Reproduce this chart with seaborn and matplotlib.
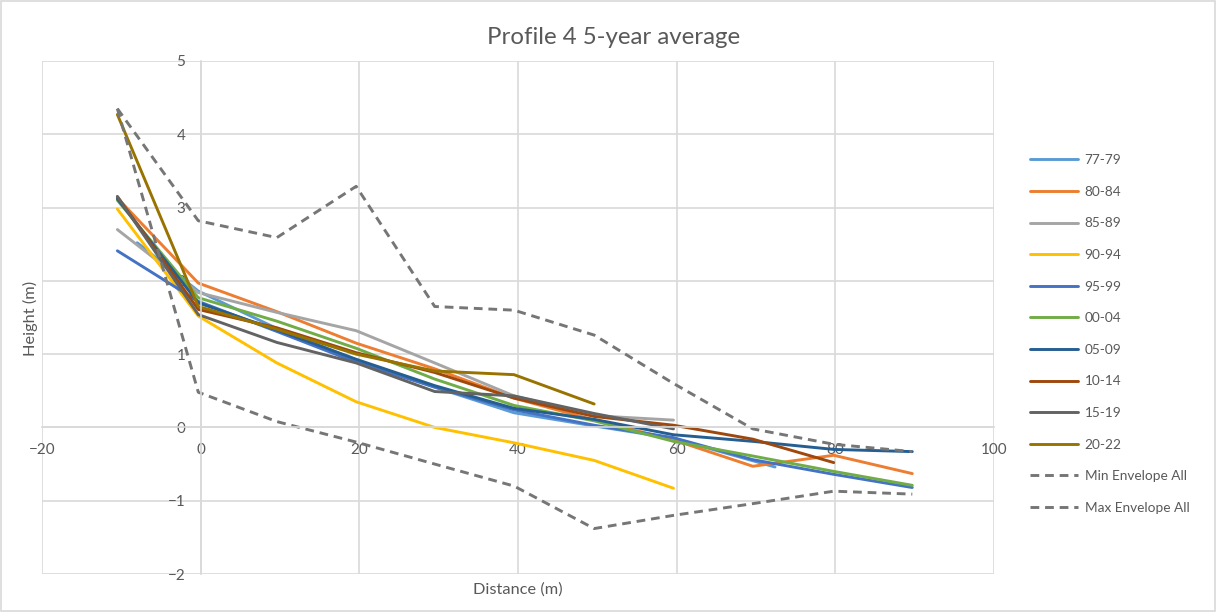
import numpy as np
import pandas as pd
import matplotlib
matplotlib.use("Agg")
import matplotlib.pyplot as plt
from matplotlib.patches import Rectangle
import seaborn as sns

# Chainage positions along the profile (m)
distance = [-10.5, -0.3, 9.6, 19.6, 29.5, 39.5, 49.6, 59.6, 69.6, 79.8, 89.7]
distance_77_79 = [-8.0, -0.3, 9.6, 19.6, 29.5, 39.5, 49.6, 59.6, 72.4]

# 5-year average heights (m)
h_77_79 = [2.52, 1.86, 1.35, 0.92, 0.55, 0.20, 0.02, -0.15, -0.54]
h_80_84 = [3.13, 1.97, 1.58, 1.15, 0.80, 0.40, 0.10, -0.17, -0.53, -0.38, -0.63]
h_85_89 = [2.70, 1.84, 1.57, 1.32, 0.88, 0.43, 0.16, 0.10]
h_90_94 = [2.98, 1.52, 0.88, 0.35, 0.00, -0.21, -0.45, -0.83]
h_95_99 = [2.41, 1.72, 1.31, 0.89, 0.55, 0.24, 0.03, -0.14, -0.44, -0.64, -0.82]
h_00_04 = [3.10, 1.77, 1.45, 1.08, 0.66, 0.30, 0.09, -0.19, -0.39, -0.60, -0.79]
h_05_09 = [3.12, 1.70, 1.33, 0.93, 0.57, 0.26, 0.11, -0.10, -0.19, -0.30, -0.33]
h_10_14 = [3.15, 1.61, 1.36, 1.02, 0.75, 0.40, 0.15, 0.03, -0.16, -0.48]
h_15_19 = [3.15, 1.54, 1.16, 0.88, 0.49, 0.43, 0.19, -0.02]
h_20_22 = [4.27, 1.65, 1.34, 1.00, 0.77, 0.72, 0.32]

env_min = [4.35, 2.82, 2.59, 3.29, 1.65, 1.60, 1.26, 0.60, -0.02, -0.23, -0.33]
env_max = [4.35, 0.48, 0.08, -0.20, -0.50, -0.80, -1.38, -1.20, -1.04, -0.87, -0.91]

series_labels = ["77-79", "80-84", "85-89", "90-94", "95-99",
                 "00-04", "05-09", "10-14", "15-19", "20-22"]
series_heights = [h_77_79, h_80_84, h_85_89, h_90_94, h_95_99,
                  h_00_04, h_05_09, h_10_14, h_15_19, h_20_22]
series_colors = ["#5B9BD5", "#ED7D31", "#A5A5A5", "#FFC000", "#4472C4",
                 "#70AD47", "#255E91", "#9E480E", "#636363", "#997300"]

x_ticks = [-20, 0, 20, 40, 60, 80, 100]
y_ticks = [-2, -1, 0, 1, 2, 3, 4, 5]

sns.set_theme(style="white")
plt.rcParams["font.family"] = ["Lato", "DejaVu Sans"]
text_color = "#595959"
grid_color = "#D9D9D9"

fig = plt.figure(figsize=(12.16, 6.12), dpi=100)
ax = fig.add_axes([42 / 1216, 1 - 574 / 612, (994 - 42) / 1216, (574 - 61) / 612])

for label, heights, color in zip(series_labels, series_heights, series_colors):
    xs = distance_77_79 if label == "77-79" else distance[:len(heights)]
    df = pd.DataFrame({"Distance": xs, "Height": heights})
    sns.lineplot(data=df, x="Distance", y="Height", ax=ax, color=color,
                 lw=2.1, sort=False, estimator=None, label=label)

for label, heights in [("Min Envelope All", env_min), ("Max Envelope All", env_max)]:
    df = pd.DataFrame({"Distance": distance, "Height": heights})
    sns.lineplot(data=df, x="Distance", y="Height", ax=ax, color="#767676",
                 lw=2.1, sort=False, estimator=None, label=label,
                 dashes=False, linestyle=(0, (3, 2)))

ax.set_xlim(-20, 100)
ax.set_ylim(-2, 5)
ax.set_xticks(x_ticks)
ax.set_yticks(y_ticks)
ax.grid(True, color=grid_color, lw=1.2)
ax.set_axisbelow(True)

for side in ["top", "right"]:
    ax.spines[side].set_visible(False)
ax.spines["left"].set_position(("data", 0))
ax.spines["bottom"].set_position(("data", 0))
for side in ["left", "bottom"]:
    ax.spines[side].set_color(grid_color)
    ax.spines[side].set_linewidth(1.2)

ax.tick_params(axis="both", length=0, labelsize=11, labelcolor=text_color)
ax.tick_params(axis="y", pad=11)
ax.tick_params(axis="x", pad=11)

ax.set_xlabel("")
ax.set_ylabel("")
fig.text(518 / 1216, 1 - 590 / 612, "Distance (m)", ha="center", va="center",
         fontsize=11.8, color=text_color)
fig.text(30 / 1216, 1 - 318 / 612, "Height (m)", ha="center", va="center",
         rotation=90, fontsize=11.8, color=text_color)
fig.text(614 / 1216, 1 - 37 / 612, "Profile 4 5-year average", ha="center", va="center",
         fontsize=17.3, color=text_color)

handles, labels = ax.get_legend_handles_labels()
ax.get_legend().remove()
leg = fig.legend(handles, labels, loc="center left",
                 bbox_to_anchor=(1018 / 1216, 1 - 334 / 612), frameon=False,
                 fontsize=9.8, labelcolor=text_color, handlelength=3.5,
                 handletextpad=0.5, labelspacing=1.44)

fig.patches.append(Rectangle((0.001, 0.001), 0.998, 0.997, transform=fig.transFigure,
                             fill=False, edgecolor=grid_color, lw=1.2))

fig.savefig("out.png", dpi=100)
